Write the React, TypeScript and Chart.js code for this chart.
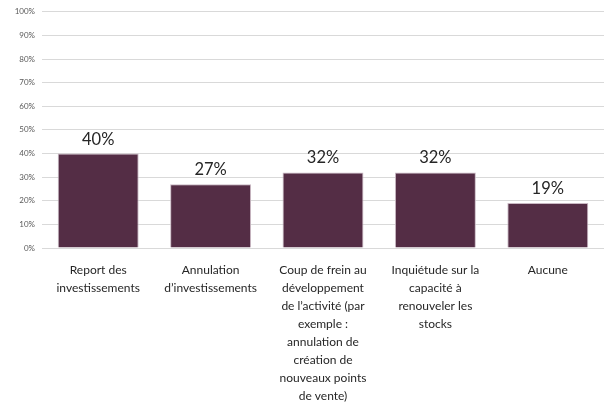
import React, { useEffect, useRef } from "react";
import { Chart, registerables } from "chart.js";

Chart.register(...registerables);

const categories: string[][] = [
  ["Report des", "investissements"],
  ["Annulation", "d’investissements"],
  ["Coup de frein au", "développement", "de l’activité (par", "exemple :", "annulation de", "création de", "nouveaux points", "de vente)"],
  ["Inquiétude sur la", "capacité à", "renouveler les", "stocks"],
  ["Aucune"],
];
const values: number[] = [40, 27, 32, 32, 19];
const barColor = "#542D45";

const valueLabels = {
  id: "valueLabels",
  afterDatasetsDraw(chart: any) {
    const ctx = chart.ctx;
    const meta = chart.getDatasetMeta(0);
    ctx.save();
    ctx.font = "16.5px Lato";
    ctx.fillStyle = "#262626";
    ctx.textAlign = "center";
    ctx.textBaseline = "bottom";
    meta.data.forEach((el: any, i: number) => {
      ctx.fillText(values[i] + "%", el.x, el.y - 6);
    });
    ctx.restore();
  },
};

export default function App() {
  const ref = useRef<HTMLCanvasElement>(null);
  useEffect(() => {
    document.body.style.margin = "0";
    const chart = new Chart(ref.current!, {
      type: "bar",
      data: {
        labels: categories,
        datasets: [
          {
            data: values,
            backgroundColor: barColor,
            borderColor: "#c9b8c3",
            borderWidth: { top: 1, left: 1, right: 1, bottom: 0 },
            barPercentage: 0.72,
            categoryPercentage: 1,
          },
        ],
      },
      options: {
        animation: false,
        responsive: false,
        maintainAspectRatio: false,
        layout: { padding: { top: 9, right: 0, left: 0, bottom: 0 } },
        plugins: { legend: { display: false }, tooltip: { enabled: false } },
        scales: {
          x: {
            grid: { display: false },
            border: { display: true, color: "#d9d9d9" },
            ticks: {
              color: "#262626",
              font: { family: "Lato", size: 12, lineHeight: 1.5 },
              maxRotation: 0,
              autoSkip: false,
              padding: 5,
            },
            afterFit: (s: any) => {
              s.height = 157;
            },
          },
          y: {
            min: 0,
            max: 100,
            ticks: {
              stepSize: 10,
              callback: (v: any) => v + "%",
              color: "#595959",
              font: { family: "Lato", size: 8 },
              padding: 7,
            },
            grid: { color: "#d9d9d9", drawTicks: false },
            border: { display: false },
            afterFit: (s: any) => {
              s.width = 42;
            },
          },
        },
      },
      plugins: [valueLabels],
    });
    return () => chart.destroy();
  }, []);
  return (
    <div style={{ position: "absolute", left: 0, top: 0, width: 604, height: 405, background: "#fff" }}>
      <canvas ref={ref} width={604} height={405} style={{ width: 604, height: 405 }} />
    </div>
  );
}
